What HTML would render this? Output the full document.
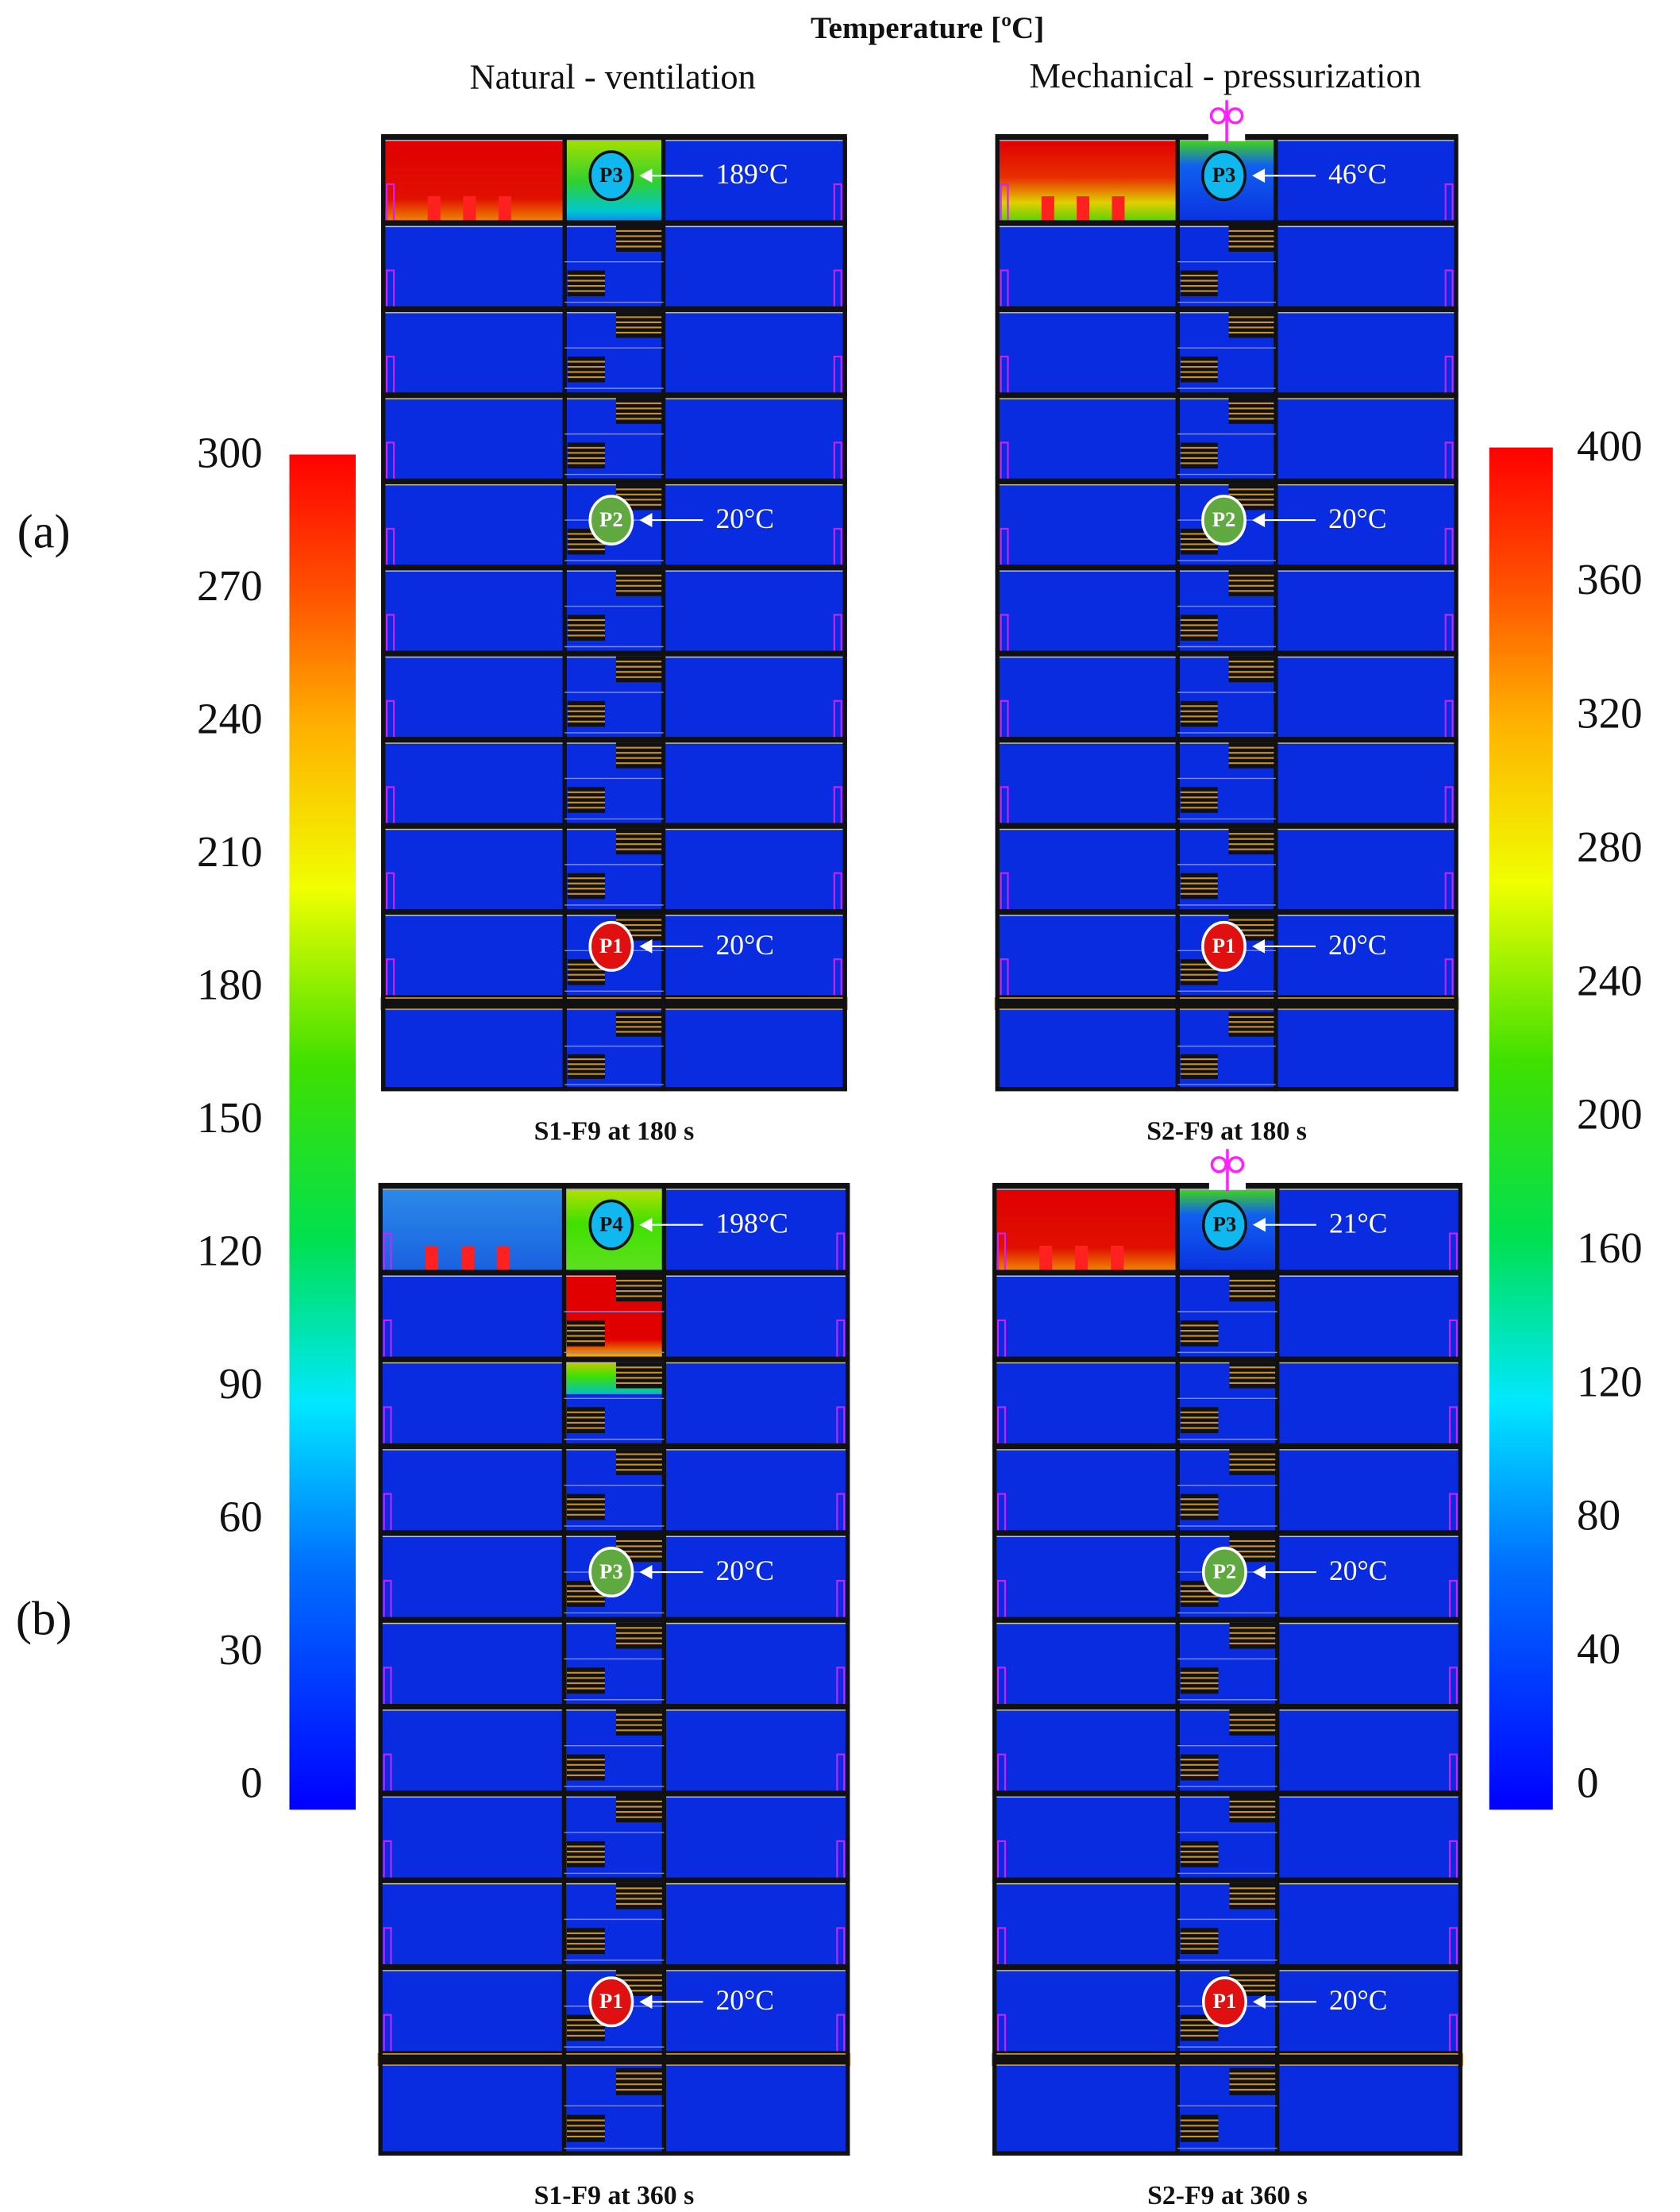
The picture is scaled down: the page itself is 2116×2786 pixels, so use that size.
<!DOCTYPE html>
<html><head><meta charset="utf-8">
<style>
html,body{margin:0;padding:0;background:#fff;}
svg{display:block;}
text{font-family:"Liberation Serif",serif;}
</style></head>
<body>
<svg id="fig" width="2116" height="2786" viewBox="0 0 1190.1 1567" preserveAspectRatio="none" xmlns="http://www.w3.org/2000/svg">
<defs>
<linearGradient id="cbar" x1="0" y1="1" x2="0" y2="0">
<stop offset="0" stop-color="#0000ff"/><stop offset="0.18" stop-color="#0070ff"/>
<stop offset="0.3" stop-color="#00e8ff"/><stop offset="0.42" stop-color="#00e050"/>
<stop offset="0.55" stop-color="#40e000"/><stop offset="0.68" stop-color="#f0ff00"/>
<stop offset="0.8" stop-color="#ffb000"/><stop offset="0.9" stop-color="#ff5000"/>
<stop offset="1" stop-color="#ff0000"/></linearGradient>
<linearGradient id="hotA" x1="0" y1="0" x2="0" y2="1"><stop offset="0" stop-color="#e00000"/><stop offset="0.7" stop-color="#e01000"/><stop offset="1" stop-color="#f09000"/></linearGradient>
<linearGradient id="hotB" x1="0" y1="0" x2="0" y2="1"><stop offset="0" stop-color="#e00000"/><stop offset="0.45" stop-color="#e83000"/><stop offset="0.75" stop-color="#e0d000"/><stop offset="1" stop-color="#50d000"/></linearGradient>
<linearGradient id="stairA" x1="0" y1="0" x2="0" y2="1"><stop offset="0" stop-color="#a0e000"/><stop offset="0.5" stop-color="#30d030"/><stop offset="0.85" stop-color="#00c8d0"/><stop offset="1" stop-color="#1080f0"/></linearGradient>
<linearGradient id="stairC" x1="0" y1="0" x2="0" y2="1"><stop offset="0" stop-color="#40d020"/><stop offset="0.3" stop-color="#1060f0"/><stop offset="1" stop-color="#0a30e0"/></linearGradient>
<linearGradient id="roomC" x1="0" y1="0" x2="0" y2="1"><stop offset="0" stop-color="#2a8ae8"/><stop offset="1" stop-color="#1a60e0"/></linearGradient>
<linearGradient id="stairD" x1="0" y1="0" x2="0" y2="1"><stop offset="0" stop-color="#b0e000"/><stop offset="0.4" stop-color="#40e000"/><stop offset="1" stop-color="#60e020"/></linearGradient>
<linearGradient id="stairE" x1="0" y1="0" x2="0" y2="1"><stop offset="0" stop-color="#e00000"/><stop offset="0.55" stop-color="#e00000"/><stop offset="0.7" stop-color="#f0c000"/><stop offset="0.85" stop-color="#40e000"/><stop offset="1" stop-color="#00c0c0"/></linearGradient>
</defs>
<g id="root"></g>
</svg>
<script>
// ---- colour bar data ----
var leftTicks = [300, 270, 240, 210, 180, 150, 120, 90, 60, 30, 0];
var rightTicks = [400, 360, 320, 280, 240, 200, 160, 120, 80, 40, 0];
var leftMax = 300, rightMax = 400;
// ---- probe readings ----
var panelTitles = ["S1-F9 at 180 s", "S2-F9 at 180 s", "S1-F9 at 360 s", "S2-F9 at 360 s"];
var probeLabels = [["P3","P2","P1"],["P3","P2","P1"],["P4","P3","P1"],["P3","P2","P1"]];
var probeTemps = [[189,20,20],[46,20,20],[198,20,20],[21,20,20]];

var NS = "http://www.w3.org/2000/svg";
var root = document.getElementById('root');
function mk(tag, attrs, parent){
  var e = document.createElementNS(NS, tag);
  for (var k in attrs) e.setAttribute(k, attrs[k]);
  (parent||root).appendChild(e);
  return e;
}
function txt(x,y,s,size,anchor,weight,fill,parent){
  var t = mk('text',{x:x,y:y,'font-size':size,'text-anchor':anchor||'middle','font-weight':weight||'normal',fill:fill||'#111','dominant-baseline':'middle'},parent);
  t.textContent = s; return t;
}

// Titles
var t1 = txt(657,22,"Temperature [ºC]",22,'middle','bold');


var t2 = txt(434,57,"Natural - ventilation",25);


var t3 = txt(868,56,"Mechanical  - pressurization",25);


var la = txt(31,380,"(a)",34);


var lb = txt(31,1150,"(b)",34);



// Colour bars
function colorbar(x,top,bottom,w,ticks,max,labelX,anchor,name){
  var g = mk('g',{});
  
  
  mk('rect',{x:x,y:top,width:w,height:bottom-top,fill:'url(#cbar)'},g);
  var y0 = top+2, y1 = bottom-16;
  function yv(v){ return y1 - (v/max)*(y1-y0); }
  ticks.forEach(function(v){
    var t = txt(labelX, yv(v), String(v), 31, anchor, 'normal', '#111', g);
    
    
  });
}
colorbar(205,322,1282,47,leftTicks,leftMax,186,'end','left-colorbar');
colorbar(1055,317,1282,45,rightTicks,rightMax,1117,'start','right-colorbar');

// Buildings
function hatch(x,y,w,h,g){
  mk('rect',{x:x,y:y,width:w,height:h,fill:'#111'},g);
  for (var i=1;i<=4;i++) mk('line',{x1:x,x2:x+w,y1:y+i*h/5,y2:y+i*h/5,stroke:'#c8902a','stroke-width':1.2},g);
}
function building(x0,y0,W,bandY,bottomY,cfg,idx){
  var g = mk('g',{});
  
  
  var s1 = x0 + W*0.394, s2 = x0 + W*0.606;
  mk('rect',{x:x0,y:y0,width:W,height:bottomY-y0,fill:'#0a2ce0'},g);
  var fh = (bandY-y0)/10;
  // top floor fields
  var ft = y0+3, fb = y0+fh;
  if (cfg.roomFill) mk('rect',{x:x0+3,y:ft,width:s1-x0-4,height:fb-ft,fill:cfg.roomFill},g);
  if (cfg.stairFill) mk('rect',{x:s1,y:ft,width:s2-s1,height:fb-ft,fill:cfg.stairFill},g);
  if (cfg.stair2) mk('rect',{x:s1,y:fb,width:s2-s1,height:fh*1.4,fill:cfg.stair2},g);
  if (cfg.fires) for (var i=0;i<3;i++) mk('rect',{x:x0+W*0.1+i*W*0.076,y:fb-19,width:9,height:17,fill:'#ff2020'},g);
  // floors
  for (var f=0; f<=10; f++){
    var y = y0 + f*fh;
    mk('rect',{x:x0,y:y-2,width:W,height:4,fill:'#111'},g);
    mk('line',{x1:x0,x2:x0+W,y1:y+2.5,y2:y+2.5,stroke:'#c8c898','stroke-width':0.8},g);
  }
  // ground band
  mk('rect',{x:x0,y:bandY,width:W,height:8,fill:'#111',stroke:'#c8902a','stroke-width':1},g);
  mk('rect',{x:x0,y:bottomY-3,width:W,height:3,fill:'#111'},g);
  // walls
  [x0+1.5, s1, s2, x0+W-1.5].forEach(function(x){
    mk('rect',{x:x-1.5,y:y0,width:3,height:bottomY-y0,fill:'#111'},g);
  });
  // stairs and doors
  for (f=0; f<11; f++){
    var fy = f<10 ? y0+f*fh : bandY+8;
    var h = f<10 ? fh : bottomY-bandY-8;
    if (f>0){
      hatch(s1+(s2-s1)*0.52, fy+2, (s2-s1)*0.46, h*0.3, g);
      hatch(s1+2, fy+h*0.55, (s2-s1)*0.38, h*0.3, g);
      mk('line',{x1:s1,x2:s2,y1:fy+h*0.45,y2:fy+h*0.45,stroke:'#7a88f0','stroke-width':0.8},g);
      mk('line',{x1:s1,x2:s2,y1:fy+h*0.92,y2:fy+h*0.92,stroke:'#7a88f0','stroke-width':0.8},g);
    }
    if (f<10){
      mk('path',{d:'M'+(x0+4)+' '+(fy+h-2)+' V'+(fy+h*0.55)+' H'+(x0+9)+' V'+(fy+h-2),fill:'none',stroke:'#d020ff','stroke-width':1.2},g);
      mk('path',{d:'M'+(x0+W-4)+' '+(fy+h-2)+' V'+(fy+h*0.55)+' H'+(x0+W-9)+' V'+(fy+h-2),fill:'none',stroke:'#d020ff','stroke-width':1.2},g);
    }
  }
  if (cfg.fan){
    var cx=(s1+s2)/2;
    mk('rect',{x:cx-13,y:y0-3,width:26,height:6,fill:'#fff'},g);
    mk('circle',{cx:cx-6,cy:y0-15,r:5,fill:'none',stroke:'#ff20ff','stroke-width':2},g);
    mk('circle',{cx:cx+6,cy:y0-15,r:5,fill:'none',stroke:'#ff20ff','stroke-width':2},g);
    mk('line',{x1:cx,x2:cx,y1:y0-26,y2:y0+4,stroke:'#ff20ff','stroke-width':2},g);
  }
  // probes
  var cx=(s1+s2)/2;
  var rows=[y0+fh*0.45, y0+fh*4.45, y0+fh*9.4];
  var colors=cfg.probeColors;
  for (var p=0;p<3;p++){
    var pc = mk('g',{},g);
    
    
    var py=rows[p];
    mk('ellipse',{cx:cx-2,cy:py,rx:15,ry:17,fill:colors[p],stroke:p==0&&colors[0]=='#10b8f0'?'#111':'#fff','stroke-width':2},pc);
    txt(cx-2,py+1,probeLabels[idx][p],15,'middle','bold',p==0&&colors[0]=='#10b8f0'?'#111':'#fff',pc);
    mk('path',{d:'M'+(cx+18)+' '+py+' l9 -5 v10 z',fill:'#fff'},pc);
    mk('line',{x1:cx+27,x2:cx+63,y1:py,y2:py,stroke:'#fff','stroke-width':1.2},pc);
    var tt = txt(cx+72,py+1,probeTemps[idx][p]+"°C",20,'start','normal','#fff',pc);
    
    
  }
  var cap = txt(x0+W/2, bottomY+30, panelTitles[idx], 19, 'middle','bold');
  
  
}
building(270,97,330,707,773,{roomFill:'url(#hotA)',stairFill:'url(#stairA)',fires:true,probeColors:['#10b8f0','#60a840','#e01010']},0);
building(705,97,328,707,773,{roomFill:'url(#hotB)',stairFill:'url(#stairC)',fires:true,fan:true,probeColors:['#10b8f0','#60a840','#e01010']},1);
building(268,840,334,1455,1527,{roomFill:'url(#roomC)',stairFill:'url(#stairD)',stair2:'url(#stairE)',fires:true,probeColors:['#10b8f0','#60a840','#e01010']},2);
building(703,840,333,1455,1527,{roomFill:'url(#hotA)',stairFill:'url(#stairC)',fires:true,fan:true,probeColors:['#10b8f0','#60a840','#e01010']},3);
</script>
</body></html>
